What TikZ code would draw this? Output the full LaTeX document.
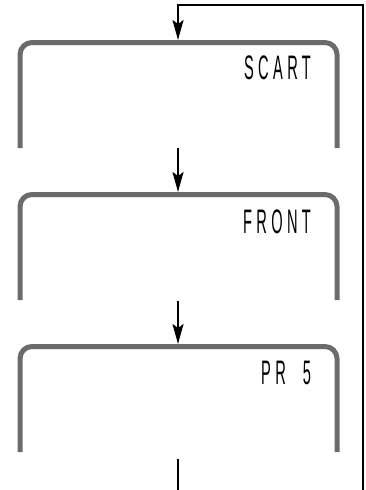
\documentclass[tikz,border=0pt]{standalone}
\usepackage{fontspec}
\setmainfont{Liberation Sans}
\usetikzlibrary{arrows.meta,calc,positioning}
\definecolor{screenink}{HTML}{6B6B6B}
\tikzset{
  screenframe/.style={draw=screenink,line width=5pt,rounded corners=12pt},
  screenlabel/.style={anchor=base east,inner sep=0pt,xscale=0.43,
    font=\fontsize{34}{34}\selectfont\addfontfeature{LetterSpace=30}},
  flowline/.style={draw=black,line width=2pt},
  flowarrow/.style={draw=black,line width=2pt,-{Stealth[length=20pt,width=11pt,inset=4pt]}},
}

\begin{document}
\begin{tikzpicture}[x=1pt,y=-1pt]
        \path[use as bounding box] (0,0) rectangle (366,490);
        % three menu screens
        \foreach \i/\y in {1/42.5,2/194.5,3/346.5}
          {\draw[screenframe] (20,\y+105.5) -- (20,\y) -- (337,\y) -- (337,\y+105.5);
           \coordinate (top\i) at (178,\y-2.5);
           \coordinate (bot\i) at (178,\y+105.5);}
        \node[screenlabel] (scart) at (311,79) {SCART};
        \node[screenlabel] (front) at (311,233) {FRONT};
        \node[screenlabel] (preset) at (311,384) {PR\ \ 5};
        % steps
        \draw[flowarrow] (bot1) -- (top2);
        \draw[flowarrow] ($(bot2)+(0,1)$) -- (top3);
        % loop back to the first screen
        \coordinate (loopin) at (178,490);
        \coordinate (loopout) at (363,490);
        \coordinate (loopturn) at (363,5);
        \draw[flowline] ($(bot3)+(0,7)$) -- (loopin);
        \draw[flowarrow] (loopout) -- (loopturn) -| (top1);
      \end{tikzpicture}
\end{document}
